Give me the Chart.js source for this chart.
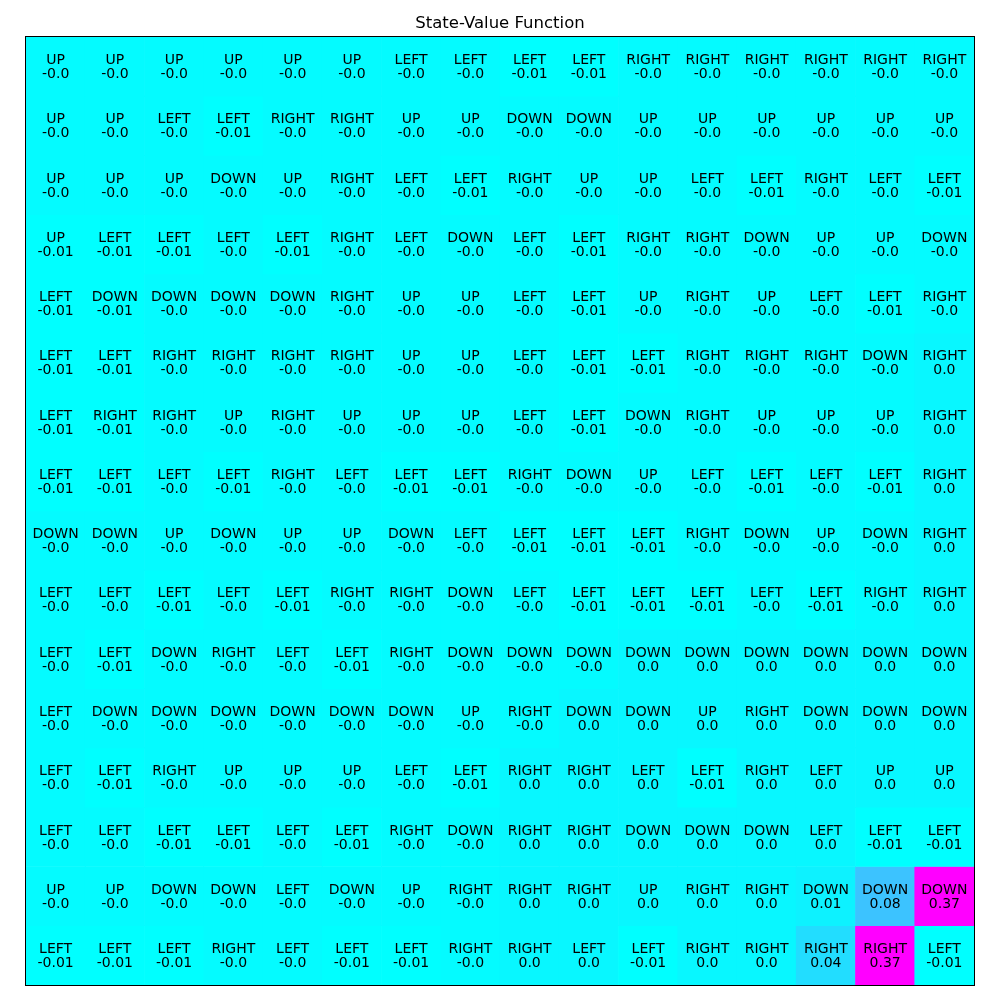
<!DOCTYPE html>
<html>
<head>
<meta charset="utf-8">
<script src="https://cdn.jsdelivr.net/npm/chart.js@4"></script>
<style>
  html, body { margin: 0; padding: 0; background: #fff; }
  #wrap { width: 1000px; height: 1000px; }
</style>
</head>
<body>
<div id="wrap"><canvas id="c" width="1000" height="1000"></canvas></div>
<script>
const chartTitle = "State-Value Function";
const columns = ["0","1","2","3","4","5","6","7","8","9","10","11","12","13","14","15"];

const actions = [
  ["UP","UP","UP","UP","UP","UP","LEFT","LEFT","LEFT","LEFT","RIGHT","RIGHT","RIGHT","RIGHT","RIGHT","RIGHT"],
  ["UP","UP","LEFT","LEFT","RIGHT","RIGHT","UP","UP","DOWN","DOWN","UP","UP","UP","UP","UP","UP"],
  ["UP","UP","UP","DOWN","UP","RIGHT","LEFT","LEFT","RIGHT","UP","UP","LEFT","LEFT","RIGHT","LEFT","LEFT"],
  ["UP","LEFT","LEFT","LEFT","LEFT","RIGHT","LEFT","DOWN","LEFT","LEFT","RIGHT","RIGHT","DOWN","UP","UP","DOWN"],
  ["LEFT","DOWN","DOWN","DOWN","DOWN","RIGHT","UP","UP","LEFT","LEFT","UP","RIGHT","UP","LEFT","LEFT","RIGHT"],
  ["LEFT","LEFT","RIGHT","RIGHT","RIGHT","RIGHT","UP","UP","LEFT","LEFT","LEFT","RIGHT","RIGHT","RIGHT","DOWN","RIGHT"],
  ["LEFT","RIGHT","RIGHT","UP","RIGHT","UP","UP","UP","LEFT","LEFT","DOWN","RIGHT","UP","UP","UP","RIGHT"],
  ["LEFT","LEFT","LEFT","LEFT","RIGHT","LEFT","LEFT","LEFT","RIGHT","DOWN","UP","LEFT","LEFT","LEFT","LEFT","RIGHT"],
  ["DOWN","DOWN","UP","DOWN","UP","UP","DOWN","LEFT","LEFT","LEFT","LEFT","RIGHT","DOWN","UP","DOWN","RIGHT"],
  ["LEFT","LEFT","LEFT","LEFT","LEFT","RIGHT","RIGHT","DOWN","LEFT","LEFT","LEFT","LEFT","LEFT","LEFT","RIGHT","RIGHT"],
  ["LEFT","LEFT","DOWN","RIGHT","LEFT","LEFT","RIGHT","DOWN","DOWN","DOWN","DOWN","DOWN","DOWN","DOWN","DOWN","DOWN"],
  ["LEFT","DOWN","DOWN","DOWN","DOWN","DOWN","DOWN","UP","RIGHT","DOWN","DOWN","UP","RIGHT","DOWN","DOWN","DOWN"],
  ["LEFT","LEFT","RIGHT","UP","UP","UP","LEFT","LEFT","RIGHT","RIGHT","LEFT","LEFT","RIGHT","LEFT","UP","UP"],
  ["LEFT","LEFT","LEFT","LEFT","LEFT","LEFT","RIGHT","DOWN","RIGHT","RIGHT","DOWN","DOWN","DOWN","LEFT","LEFT","LEFT"],
  ["UP","UP","DOWN","DOWN","LEFT","DOWN","UP","RIGHT","RIGHT","RIGHT","UP","RIGHT","RIGHT","DOWN","DOWN","DOWN"],
  ["LEFT","LEFT","LEFT","RIGHT","LEFT","LEFT","LEFT","RIGHT","RIGHT","LEFT","LEFT","RIGHT","RIGHT","RIGHT","RIGHT","LEFT"]
];

// estimated state values (shown rounded to 2 decimals)
const values = [
  [-0.004,-0.004,-0.004,-0.004,-0.004,-0.004,-0.004,-0.004,-0.01,-0.01,-0.004,-0.004,-0.004,-0.004,-0.004,-0.004],
  [-0.004,-0.004,-0.004,-0.01,-0.004,-0.004,-0.004,-0.004,-0.004,-0.004,-0.004,-0.004,-0.004,-0.004,-0.004,-0.004],
  [-0.004,-0.004,-0.004,-0.004,-0.004,-0.004,-0.004,-0.01,-0.004,-0.004,-0.004,-0.004,-0.01,-0.004,-0.004,-0.01],
  [-0.01,-0.01,-0.01,-0.004,-0.01,-0.004,-0.004,-0.004,-0.004,-0.01,-0.004,-0.004,-0.004,-0.004,-0.004,-0.004],
  [-0.01,-0.01,-0.004,-0.004,-0.004,-0.004,-0.004,-0.004,-0.004,-0.01,-0.004,-0.004,-0.004,-0.004,-0.01,-0.004],
  [-0.01,-0.01,-0.004,-0.004,-0.004,-0.004,-0.004,-0.004,-0.004,-0.01,-0.01,-0.004,-0.004,-0.004,-0.004,0.002],
  [-0.01,-0.01,-0.004,-0.004,-0.004,-0.004,-0.004,-0.004,-0.004,-0.01,-0.004,-0.004,-0.004,-0.004,-0.004,0.002],
  [-0.01,-0.01,-0.004,-0.01,-0.004,-0.004,-0.01,-0.01,-0.004,-0.004,-0.004,-0.004,-0.01,-0.004,-0.01,0.002],
  [-0.004,-0.004,-0.004,-0.004,-0.004,-0.004,-0.004,-0.004,-0.01,-0.01,-0.01,-0.004,-0.004,-0.004,-0.004,0.002],
  [-0.004,-0.004,-0.01,-0.004,-0.01,-0.004,-0.004,-0.004,-0.004,-0.01,-0.01,-0.01,-0.004,-0.01,-0.004,0.002],
  [-0.004,-0.01,-0.004,-0.004,-0.004,-0.01,-0.004,-0.004,-0.004,-0.004,0.002,0.002,0.002,0.002,0.002,0.002],
  [-0.004,-0.004,-0.004,-0.004,-0.004,-0.004,-0.004,-0.004,-0.004,0.002,0.002,0.002,0.002,0.002,0.002,0.002],
  [-0.004,-0.01,-0.004,-0.004,-0.004,-0.004,-0.004,-0.01,0.002,0.002,0.002,-0.01,0.002,0.002,0.002,0.002],
  [-0.004,-0.004,-0.01,-0.01,-0.004,-0.01,-0.004,-0.004,0.002,0.002,0.002,0.002,0.002,0.002,-0.01,-0.01],
  [-0.004,-0.004,-0.004,-0.004,-0.004,-0.004,-0.004,-0.004,0.002,0.002,0.002,0.002,0.002,0.01,0.08,0.37],
  [-0.01,-0.01,-0.01,-0.004,-0.004,-0.01,-0.01,-0.004,0.002,0.002,-0.01,0.002,0.002,0.04,0.37,-0.01]
];

const allVals = values.flat();
const vMin = Math.min(...allVals);
const vMax = Math.max(...allVals);

function coolColor(v) {
  const f = Math.max(0, Math.min(1, (v - vMin) / (vMax - vMin)));
  const r = Math.round(255 * f), g = Math.round(255 * (1 - f));
  return `rgb(${r},${g},255)`;
}
function fmt(v) {
  const r = Math.round(v * 100) / 100;
  if (r === 0) return (v < 0 ? "-" : "") + "0.0";
  return String(r);
}

const datasets = values.map((row, i) => ({
  label: "row " + i,
  data: row.map(() => 1),
  backgroundColor: row.map(coolColor),
  borderWidth: 0,
  barPercentage: 1.0,
  categoryPercentage: 1.0,
  stack: "grid"
}));

const cellText = {
  id: "cellText",
  afterDatasetsDraw(chart) {
    const ctx = chart.ctx;
    ctx.save();
    ctx.fillStyle = "#000";
    ctx.textAlign = "center";
    ctx.textBaseline = "alphabetic";
    ctx.font = "14px 'DejaVu Sans'";
    chart.data.datasets.forEach((ds, i) => {
      const meta = chart.getDatasetMeta(i);
      meta.data.forEach((el, j) => {
        const cx = el.x;
        const cy = (el.y + el.base) / 2;
        ctx.fillText(actions[i][j], cx, cy - 2.3);
        ctx.fillText(fmt(values[i][j]), cx, cy + 11.7);
      });
    });
    ctx.restore();
  },
  afterDraw(chart) {
    const a = chart.chartArea;
    const ctx = chart.ctx;
    ctx.save();
    ctx.strokeStyle = "#000";
    ctx.lineWidth = 1;
    ctx.strokeRect(Math.round(a.left) - 0.5, Math.round(a.top) - 0.5,
                   Math.round(a.right - a.left) + 1, Math.round(a.bottom - a.top) + 1);
    ctx.restore();
  }
};

new Chart(document.getElementById("c"), {
  type: "bar",
  data: { labels: columns, datasets },
  options: {
    responsive: false,
    animation: false,
    devicePixelRatio: 1,
    layout: { padding: { left: 26, right: 26, top: 0, bottom: 15 } },
    scales: {
      x: { display: false, stacked: true, offset: true },
      y: { display: false, stacked: true, min: 0, max: 16, reverse: true }
    },
    plugins: {
      legend: { display: false },
      tooltip: { enabled: false },
      title: {
        display: true,
        text: chartTitle,
        color: "#000",
        font: { family: "'DejaVu Sans'", size: 16.5, weight: "normal" },
        padding: { top: 14, bottom: 3 }
      }
    }
  },
  plugins: [cellText]
});
</script>
</body>
</html>
